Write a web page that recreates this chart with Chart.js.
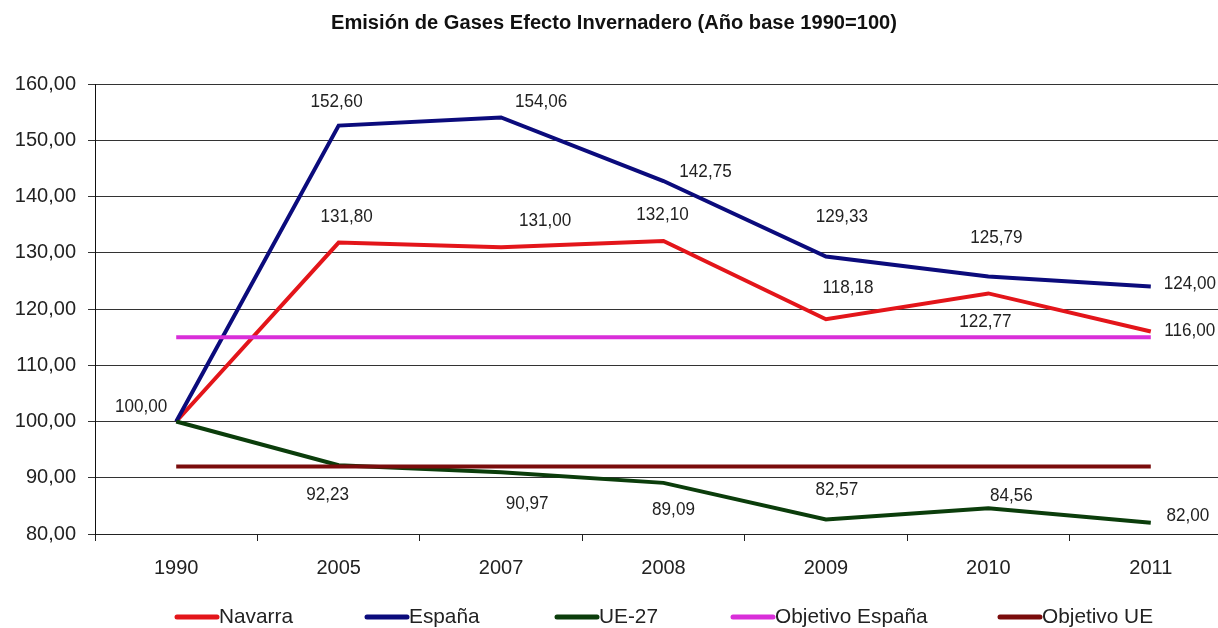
<!DOCTYPE html>
<html>
<head>
<meta charset="utf-8">
<script src="https://cdn.jsdelivr.net/npm/chart.js@4.4.1/dist/chart.umd.min.js"></script>
<style>
  html, body { margin: 0; padding: 0; background: #ffffff; overflow: hidden; width: 1218px; height: 628px; }
  #wrap { position: absolute; left: 0; top: 0; width: 1240px; height: 628px; }
</style>
</head>
<body>
<div id="wrap"><canvas id="c" width="1240" height="628"></canvas></div>
<script>
// ---- Data ----
const categories = ['1990', '2005', '2007', '2008', '2009', '2010', '2011'];
const navarra = [100.00, 131.80, 131.00, 132.10, 118.18, 122.77, 116.00];
const espana = [100.00, 152.60, 154.06, 142.75, 129.33, 125.79, 124.00];
const ue27 = [100.00, 92.23, 90.97, 89.09, 82.57, 84.56, 82.00];
const objetivoEspana = [115, 115, 115, 115, 115, 115, 115];
const objetivoUE = [92, 92, 92, 92, 92, 92, 92];
const seriesNames = ['Navarra', 'España', 'UE-27', 'Objetivo España', 'Objetivo UE'];
const yMin = 80, yMax = 160, yStep = 10;
const titleText = 'Emisión de Gases Efecto Invernadero (Año base 1990=100)';

// ---- Styles ----
const colors = ['#e3151a', '#0b0b7c', '#0b3d0b', '#d92ed9', '#7a0c0c'];
// label offsets (dx, dy) from the point, per series; null = no label
const labelOffsets = [
  [null, [8, -26], [44, -26], [-1, -26], [22, -31], [-3, 28], [39, -1]],
  [null, [-2, -24], [40, -16], [42, -9], [16, -40], [8, -39], [39, -3]],
  [[-35, -15], [-11, 30], [26, 31], [10, 27], [11, -30], [23, -13], [37, -7]],
  null,
  null
];
const legendX = [175, 365, 555, 731, 998];
const FONT = "'Liberation Sans', Arial, sans-serif";

function fmt(v) { return v.toFixed(2).replace('.', ','); }

const dataLabelPlugin = {
  id: 'dataLabels',
  afterDatasetsDraw(chart) {
    const ctx = chart.ctx;
    ctx.save();
    ctx.font = '19px ' + FONT;
    ctx.fillStyle = '#222';
    ctx.textAlign = 'center';
    ctx.textBaseline = 'middle';
    chart.data.datasets.forEach((ds, di) => {
      const offs = labelOffsets[di];
      if (!offs) return;
      const meta = chart.getDatasetMeta(di);
      meta.data.forEach((pt, i) => {
        const o = offs[i];
        if (!o) return;
        ctx.save();
        ctx.translate(pt.x + o[0], pt.y + o[1]);
        ctx.scale(0.9, 1);
        ctx.fillText(fmt(ds.data[i]), 0, 0);
        ctx.restore();
      });
    });
    ctx.restore();
  }
};

const titleLegendPlugin = {
  id: 'titleLegend',
  afterDraw(chart) {
    const ctx = chart.ctx;
    ctx.save();
    // title
    ctx.font = 'bold 20px ' + FONT;
    ctx.fillStyle = '#111';
    ctx.textAlign = 'center';
    ctx.textBaseline = 'middle';
    const tw = ctx.measureText(titleText).width;
    const sx = 566 / tw;
    ctx.save();
    ctx.translate(614, 23);
    ctx.scale(sx, 1);
    ctx.fillText(titleText, 0, 0);
    ctx.restore();
    // legend
    ctx.font = '21px ' + FONT;
    const lsx = 74 / ctx.measureText('Navarra').width;
    ctx.textAlign = 'left';
    chart.data.datasets.forEach((ds, i) => {
      const x = legendX[i], y = 617;
      ctx.strokeStyle = colors[i];
      ctx.lineWidth = 5;
      ctx.lineCap = 'round';
      ctx.beginPath();
      ctx.moveTo(x + 2, y);
      ctx.lineTo(x + 42, y);
      ctx.stroke();
      ctx.save();
      ctx.translate(x + 44, y);
      ctx.scale(lsx, 1);
      ctx.fillStyle = '#222';
      ctx.fillText(ds.label, 0, 0);
      ctx.restore();
    });
    ctx.restore();
  }
};

const seriesData = [navarra, espana, ue27, objetivoEspana, objetivoUE];
const datasets = seriesData.map((d, i) => ({
  label: seriesNames[i],
  data: d,
  borderColor: colors[i],
  backgroundColor: colors[i],
  borderWidth: 4,
  pointRadius: 0,
  pointHoverRadius: 0,
  tension: 0,
  fill: false,
  order: 5 - i
}));

new Chart(document.getElementById('c'), {
  type: 'line',
  data: { labels: categories, datasets },
  options: {
    responsive: false,
    animation: false,
    devicePixelRatio: 1,
    layout: { padding: { left: 0, right: 8, top: 84, bottom: 34 } },
    plugins: {
      legend: { display: false },
      title: { display: false },
      tooltip: { enabled: false }
    },
    scales: {
      x: {
        type: 'category',
        offset: true,
        grid: {
          offset: true,
          drawOnChartArea: false,
          drawTicks: true,
          tickLength: 7,
          color: '#222'
        },
        border: { color: '#222', width: 1 },
        ticks: {
          color: '#222',
          font: { family: FONT, size: 20 },
          padding: 15,
          maxRotation: 0,
          autoSkip: false
        },
        afterFit(s) { s.height = 60; }
      },
      y: {
        min: yMin,
        max: yMax,
        grid: {
          color: '#333',
          lineWidth: 1,
          drawTicks: true,
          tickLength: 7
        },
        border: { color: '#111', width: 1 },
        ticks: {
          stepSize: yStep,
          color: '#222',
          padding: 12,
          font: { family: FONT, size: 20 },
          callback: v => fmt(v)
        },
        afterFit(s) { s.width = 95; }
      }
    }
  },
  plugins: [dataLabelPlugin, titleLegendPlugin]
});
</script>
</body>
</html>
